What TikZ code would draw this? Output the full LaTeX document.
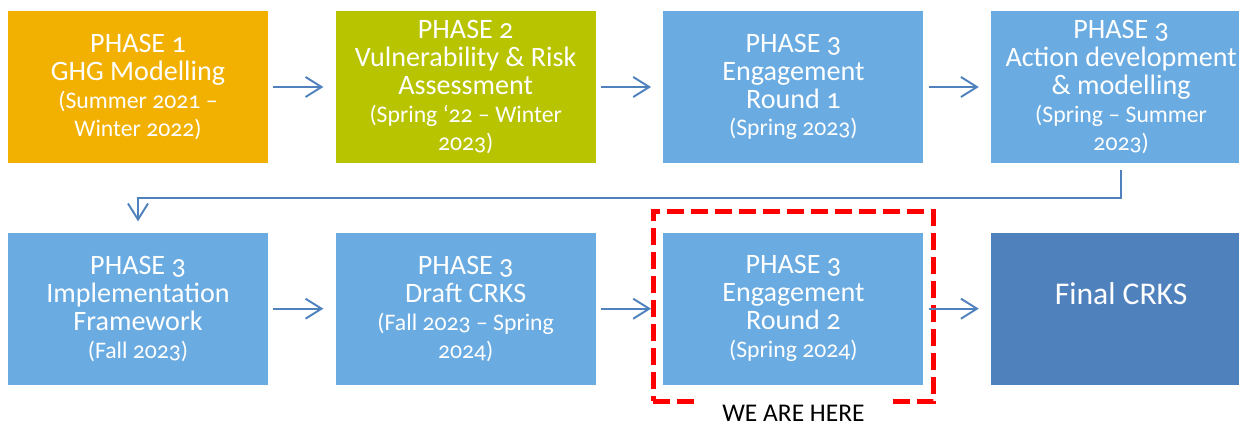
\documentclass[tikz,border=0pt]{standalone}
\usepackage{fontspec}
\setmainfont{Carlito}[Numbers=OldStyle]
\usetikzlibrary{positioning,calc,fit,arrows.meta}

\definecolor{phaseorange}{HTML}{F2B100}
\definecolor{phasegreen}{HTML}{B9C400}
\definecolor{phaseblue}{HTML}{6AACE2}
\definecolor{finalblue}{HTML}{4F81BD}
\definecolor{flowblue}{HTML}{4F81BD}

% smaller type for the date lines
\newcommand{\when}[1]{{\fontsize{13.5}{15.9}\selectfont #1}}

\begin{document}
\begin{tikzpicture}[
    >={Straight Barb[length=0.32cm,width=0.4cm]},node distance=1.34cm,
    stage/.style={rectangle,minimum width=5.2cm,minimum height=3.04cm,inner sep=0pt,
      align=center,text=white,font=\fontsize{16}{15.9}\selectfont},
    flow/.style={->,draw=flowblue,line width=1.1pt,shorten <=0.1cm,shorten >=0.24cm}]
    \useasboundingbox (0,0) rectangle (24.78,-8.44);

    % top row
    \node[stage,fill=phaseorange] (S1) at (2.76,-1.74) {PHASE 1\\GHG Modelling\\\when{(Summer 2021 –}\\\when{Winter 2022)}};
    \node[stage,fill=phasegreen] (S2) [right=of S1] {PHASE 2\\Vulnerability \& Risk\\Assessment\\\when{(Spring ‘22 – Winter}\\\when{2023)}};
    \node[stage,fill=phaseblue] (S3) [right=of S2] {PHASE 3\\Engagement\\Round 1\\\when{(Spring 2023)}};
    \node[stage,fill=phaseblue] (S4) [right=of S3] {PHASE 3\\Action development\\\& modelling\\\when{(Spring – Summer}\\\when{2023)}};

    % bottom row
    \node[stage,fill=phaseblue] (S5) [below=1.38cm of S1] {PHASE 3\\Implementation\\Framework\\\when{(Fall 2023)}};
    \node[stage,fill=phaseblue] (S6) [right=of S5] {PHASE 3\\Draft CRKS\\\when{(Fall 2023 – Spring}\\\when{2024)}};
    \node[stage,fill=phaseblue] (S7) [right=of S6] {PHASE 3\\Engagement\\Round 2\\\when{(Spring 2024)}};
    \node[stage,fill=finalblue,font=\fontsize{18}{18}\selectfont,text depth=0.6cm] (S8) [right=of S7] {Final CRKS};

    % current stage marker
    \node[draw=red,line width=0.1cm,dash pattern=on 0.34cm off 0.14cm,fit=(S7),
      inner xsep=0.2cm,inner ysep=0.37cm,yshift=0.05cm] (here) {};
    \node[fill=white,inner xsep=0.5cm,inner ysep=0pt,text height=0.5cm,text depth=0.04cm,
      font=\fontsize{14.5}{14.5}\selectfont] (herelbl) [below=0.22cm of S7] {WE ARE HERE};

    \draw[flow] (S1) -- (S2);
    \draw[flow] (S2) -- (S3);
    \draw[flow] (S3) -- (S4);
    \draw[flow,shorten <=0.14cm,shorten >=0.22cm] (S4.south) -- ++(0,-0.7) -| (S5.north);
    \draw[flow] (S5) -- (S6);
    \draw[flow] (S6) -- (S7);
    \draw[flow] (S7) -- (S8);
\end{tikzpicture}
\end{document}
